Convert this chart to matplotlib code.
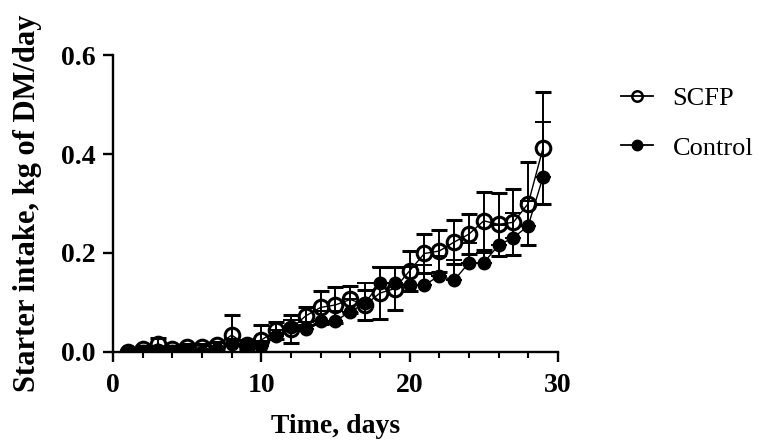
import numpy as np
import matplotlib.pyplot as plt
from matplotlib.ticker import MultipleLocator
from matplotlib.lines import Line2D

days = np.arange(1, 30)

scfp = [0.000, 0.005, 0.016, 0.006, 0.010, 0.010, 0.013, 0.034, 0.014, 0.024,
        0.044, 0.047, 0.073, 0.090, 0.095, 0.106, 0.095, 0.119, 0.128, 0.164,
        0.199, 0.204, 0.222, 0.238, 0.265, 0.258, 0.262, 0.300, 0.412]
scfp_err = [0.003, 0.006, 0.013, 0.005, 0.006, 0.006, 0.008, 0.040, 0.010, 0.030,
            0.017, 0.028, 0.018, 0.033, 0.036, 0.027, 0.030, 0.053, 0.043, 0.040,
            0.040, 0.042, 0.044, 0.040, 0.059, 0.064, 0.067, 0.083, 0.113]

control = [0.000, 0.001, 0.004, 0.002, 0.004, 0.000, 0.005, 0.016, 0.015, 0.012,
           0.033, 0.050, 0.046, 0.062, 0.063, 0.081, 0.099, 0.139, 0.139, 0.136,
           0.135, 0.154, 0.145, 0.180, 0.180, 0.216, 0.231, 0.255, 0.354]
control_err = [0.002, 0.004, 0.006, 0.004, 0.005, 0.004, 0.005, 0.010, 0.008, 0.010,
               0.012, 0.015, 0.015, 0.020, 0.020, 0.025, 0.040, 0.033, 0.033, 0.035,
               0.040, 0.040, 0.040, 0.041, 0.020, 0.040, 0.050, 0.050, 0.111]

plt.rcParams['font.family'] = ['Liberation Serif', 'DejaVu Serif']

fig = plt.figure(figsize=(7.59, 4.41), dpi=100)
ax = fig.add_axes([0.149, 0.202, 0.586, 0.673])

# Control: error bars above only
ax.errorbar(days, control, yerr=[np.zeros(len(control)), control_err],
            color='black', lw=1.0, marker='o', ms=9, mfc='black', mec='black',
            elinewidth=1.4, capsize=5.5, capthick=1.4, zorder=2)
# SCFP: open circles, symmetric error bars
ax.errorbar(days, scfp, yerr=scfp_err,
            color='black', lw=1.0, marker='o', ms=10.5, mfc='none', mec='black', mew=2.2,
            elinewidth=1.4, capsize=5.5, capthick=1.4, zorder=3)

ax.set_xlim(0, 30)
ax.set_ylim(0, 0.6)
ax.xaxis.set_major_locator(MultipleLocator(10))
ax.xaxis.set_minor_locator(MultipleLocator(2))
ax.yaxis.set_major_locator(MultipleLocator(0.2))
ax.yaxis.set_major_formatter(plt.FormatStrFormatter('%.1f'))

for s in ['top', 'right']:
    ax.spines[s].set_visible(False)
for s in ['left', 'bottom']:
    ax.spines[s].set_linewidth(1.7)
ax.tick_params(which='major', length=7.5, width=1.7, labelsize=20)
ax.tick_params(axis='x', which='major', pad=8)
ax.tick_params(axis='y', which='major', pad=5)
ax.tick_params(which='minor', length=4.5, width=1.5)
for lbl in ax.get_xticklabels() + ax.get_yticklabels():
    lbl.set_fontweight('bold')

ax.set_xlabel('Time, days', fontsize=20, fontweight='bold', labelpad=11)
ax.set_ylabel('Starter intake, kg of DM/day', fontsize=22, fontweight='bold', labelpad=14)

handles = [
    Line2D([], [], color='black', lw=1.3, marker='o', ms=7.5, mfc='none', mec='black', mew=1.8),
    Line2D([], [], color='black', lw=1.3, marker='o', ms=7.5, mfc='black', mec='black'),
]
fig.legend(handles, ['SCFP', 'Control'], loc='upper left', bbox_to_anchor=(0.787, 0.858),
           frameon=False, fontsize=19, handlelength=1.2, labelspacing=1.0,
           handletextpad=0.75)

fig.savefig('out.png', dpi=100)
